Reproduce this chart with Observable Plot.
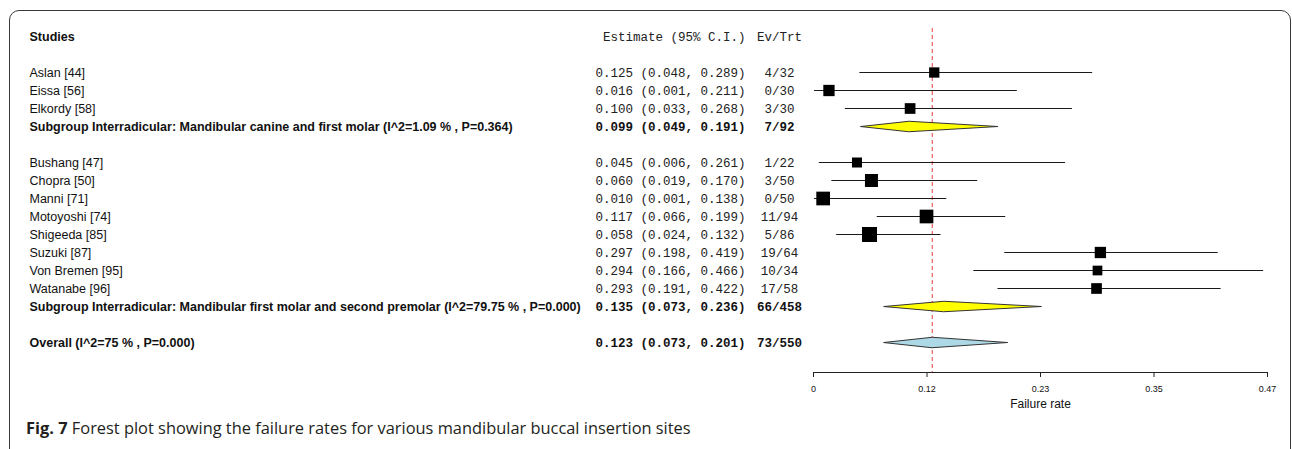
<!DOCTYPE html>
<html><head><meta charset="utf-8">
<script src="https://cdn.jsdelivr.net/npm/d3@7"></script>
<script src="https://cdn.jsdelivr.net/npm/@observablehq/plot@0.6"></script>
<style>
html,body{margin:0;padding:0;background:#fff;overflow:hidden;}
#wrap{position:relative;width:1292px;height:449px;overflow:hidden;}
#frame{position:absolute;left:9px;top:10px;width:1282px;height:470px;box-sizing:border-box;border:1.5px solid #3a3a3a;border-radius:10px 10px 0 0;}
#chart{position:absolute;left:0;top:0;}
#caption{position:absolute;left:26px;top:418px;font-family:"Open Sans","Noto Sans",sans-serif;font-size:16.4px;line-height:20px;color:#231f20;white-space:nowrap;}
</style></head>
<body><div id="wrap"><div id="frame"></div><div id="chart"></div>
<div id="caption"><b>Fig. 7</b> Forest plot showing the failure rates for various mandibular buccal insertion sites</div></div>
<script>
// ---- data ----
const studies = ["Aslan [44]", "Eissa [56]", "Elkordy [58]", "Bushang [47]", "Chopra [50]", "Manni [71]", "Motoyoshi [74]", "Shigeeda [85]", "Suzuki [87]", "Von Bremen [95]", "Watanabe [96]"];
const studyGroup = [1, 1, 1, 2, 2, 2, 2, 2, 2, 2, 2];
const estimate = [0.125, 0.016, 0.100, 0.045, 0.060, 0.010, 0.117, 0.058, 0.297, 0.294, 0.293];
const lower = [0.048, 0.001, 0.033, 0.006, 0.019, 0.001, 0.066, 0.024, 0.198, 0.166, 0.191];
const upper = [0.289, 0.211, 0.268, 0.261, 0.170, 0.138, 0.199, 0.132, 0.419, 0.466, 0.422];
const events = [4, 0, 3, 1, 3, 0, 11, 5, 19, 10, 17];
const totals = [32, 30, 30, 22, 50, 50, 94, 86, 64, 34, 58];
const relWeight = [10.3, 11.3, 10.7, 10, 13, 13.7, 13.7, 15, 11.3, 9.7, 10.7];

const subgroupNames = ["Subgroup Interradicular: Mandibular canine and first molar", "Subgroup Interradicular: Mandibular first molar and second premolar"];
const subgroupI2 = ["1.09", "79.75"];
const subgroupP = ["0.364", "0.000"];
const subgroupEst = [0.099, 0.135];
const subgroupLo = [0.049, 0.073];
const subgroupHi = [0.191, 0.236];
const subgroupEv = [7, 66];
const subgroupTrt = [92, 458];

const overallLabel = "Overall";
const overallI2 = "75";
const overallP = "0.000";
const overallEst = 0.123, overallLo = 0.073, overallHi = 0.201, overallEv = 73, overallTrt = 550;

const tickValues = [0, 0.1175, 0.235, 0.3525, 0.47];
const tickLabels = ["0", "0.12", "0.23", "0.35", "0.47"];
const header = {label: "Studies", est: "Estimate (95% C.I.)", ev: "Ev/Trt"};
const xLabel = "Failure rate";

// ---- build table ----
const fmt = d3.format(".3f");
const ci = (e, l, h) => `${fmt(e)} (${fmt(l)}, ${fmt(h)})`;
const rows = [{row: 0, label: header.label, est: header.est, ev: header.ev, bold: true, head: true}];
const studyData = [];
const subDiamonds = [];
const allDiamonds = [];
const h = 0.29;
const diamond = (id, e, l, hi, row) => [
  {id, x: l, y: row}, {id, x: e, y: row - h}, {id, x: hi, y: row}, {id, x: e, y: row + h}
];
let r = 2;
[1, 2].forEach((g, gi) => {
  studies.forEach((s, i) => {
    if (studyGroup[i] !== g) return;
    studyData.push({row: r, est: estimate[i], lo: lower[i], hi: upper[i], w: relWeight[i]});
    rows.push({row: r, label: s, est: ci(estimate[i], lower[i], upper[i]), ev: `${events[i]}/${totals[i]}`, bold: false});
    r++;
  });
  rows.push({row: r, label: `${subgroupNames[gi]} (I^2=${subgroupI2[gi]} % , P=${subgroupP[gi]})`,
    est: ci(subgroupEst[gi], subgroupLo[gi], subgroupHi[gi]), ev: `${subgroupEv[gi]}/${subgroupTrt[gi]}`, bold: true});
  subDiamonds.push(...diamond("g" + gi, subgroupEst[gi], subgroupLo[gi], subgroupHi[gi], r));
  r += 2;
});
rows.push({row: r, label: `${overallLabel} (I^2=${overallI2} % , P=${overallP})`,
  est: ci(overallEst, overallLo, overallHi), ev: `${overallEv}/${overallTrt}`, bold: true});
allDiamonds.push(...diamond("all", overallEst, overallLo, overallHi, r));
const lastRow = r;

const sans = "'Liberation Sans', Arial, Helvetica, sans-serif";
const mono = "'Liberation Mono', 'Courier New', monospace";

const chart = Plot.plot({
  width: 1292,
  height: 410,
  marginLeft: 813,
  marginRight: 25,
  marginTop: 28,
  marginBottom: 38,
  style: {fontFamily: sans, fontSize: "9px", background: "transparent", color: "#111"},
  x: {domain: [0, 0.47], axis: null},
  y: {domain: [0, lastRow], range: [36, 36 + 18 * lastRow], axis: null},
  r: {type: "linear", domain: [0, 15], range: [0, 15 / Math.sqrt(Math.PI)]},
  marks: [
    Plot.ruleX([overallEst], {stroke: "#f06a6a", strokeDasharray: "4,3", strokeWidth: 1.3}),
    Plot.ruleY(studyData, {y: "row", x1: "lo", x2: "hi", stroke: "#1a1a1a", strokeWidth: 1}),
    Plot.dot(studyData, {x: "est", y: "row", r: "w", symbol: "square", fill: "black", stroke: "none"}),
    Plot.line(subDiamonds, {x: "x", y: "y", z: "id", curve: "linear-closed", fill: "#ffff00", stroke: "#333", strokeWidth: 1}),
    Plot.line(allDiamonds, {x: "x", y: "y", z: "id", curve: "linear-closed", fill: "#add8e6", stroke: "#333", strokeWidth: 1}),
    Plot.frame({anchor: "bottom", stroke: "#222"}),
    Plot.axisX({ticks: tickValues, tickFormat: d => tickLabels[tickValues.indexOf(d)], tickSize: 5, tickPadding: 8, fontSize: 9, label: null, stroke: "#222"}),
    Plot.text([xLabel], {frameAnchor: "bottom", dy: 35, fontSize: 12, fontFamily: sans, fill: "#111"}),
    // labels
    Plot.text(rows.filter(d => !d.bold), {y: "row", text: "label", frameAnchor: "left", dx: -784, textAnchor: "start", fontSize: 12.5, fontFamily: sans, fill: "#111"}),
    Plot.text(rows.filter(d => d.bold), {y: "row", text: "label", frameAnchor: "left", dx: -784, textAnchor: "start", fontSize: 12.5, fontWeight: "bold", fontFamily: sans, fill: "#111"}),
    // estimates
    Plot.text(rows.filter(d => !d.bold || d.head), {y: "row", text: "est", frameAnchor: "left", dx: -68, textAnchor: "end", fontSize: 12.5, fontFamily: mono, fill: "#222"}),
    Plot.text(rows.filter(d => d.bold && !d.head), {y: "row", text: "est", frameAnchor: "left", dx: -68, textAnchor: "end", fontSize: 12.5, fontWeight: "bold", fontFamily: mono, fill: "#111"}),
    // ev/trt
    Plot.text(rows.filter(d => !d.bold || d.head), {y: "row", text: "ev", frameAnchor: "left", dx: -34, textAnchor: "middle", fontSize: 12.5, fontFamily: mono, fill: "#222"}),
    Plot.text(rows.filter(d => d.bold && !d.head), {y: "row", text: "ev", frameAnchor: "left", dx: -34, textAnchor: "middle", fontSize: 12.5, fontWeight: "bold", fontFamily: mono, fill: "#111"})
  ]
});
document.getElementById("chart").appendChild(chart);
</script>
</body></html>
